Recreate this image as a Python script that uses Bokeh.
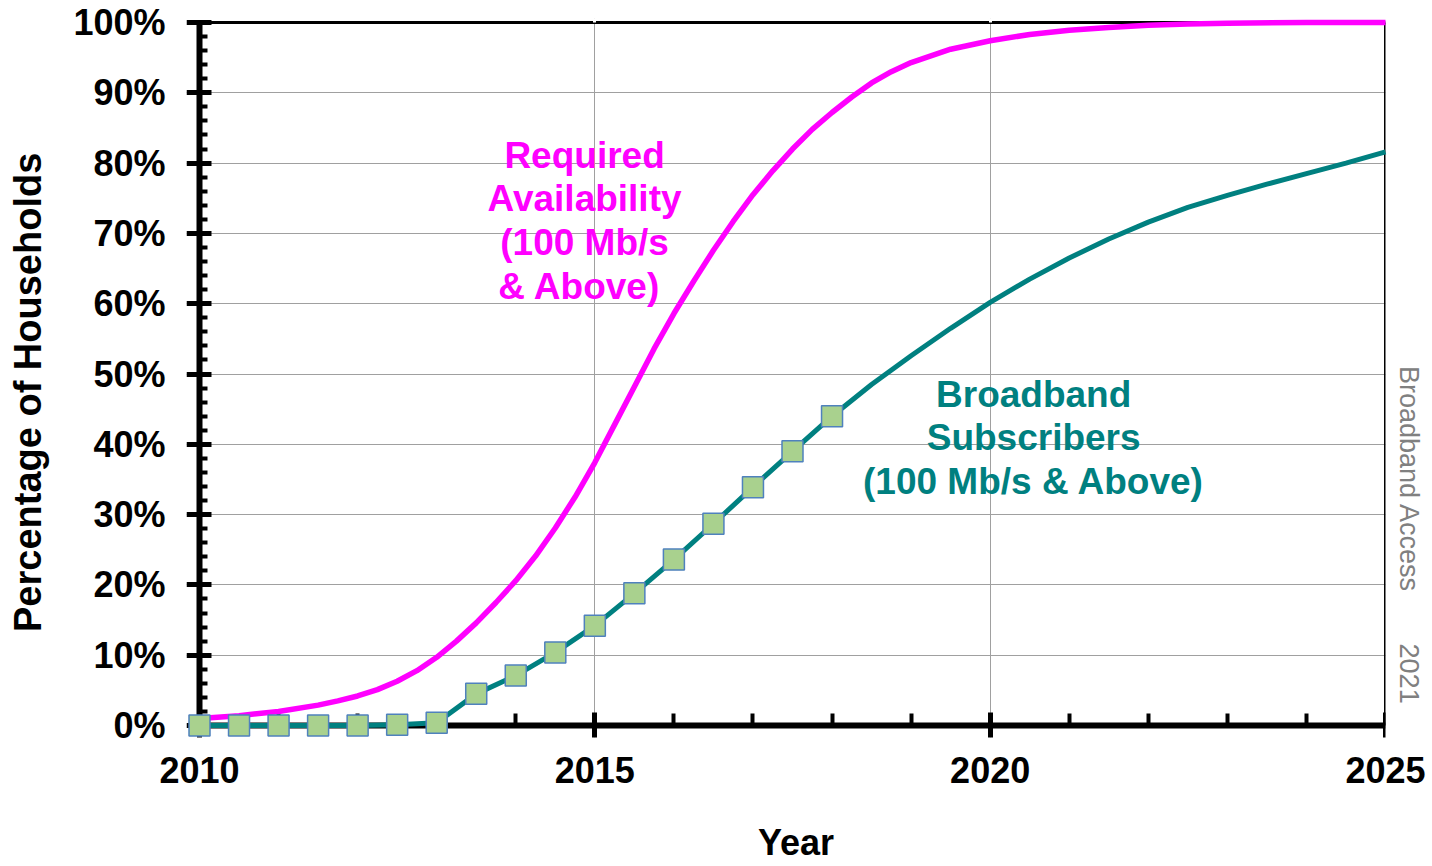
from bokeh.plotting import figure
from bokeh.models import (LinearAxis, FixedTicker, PrintfTickFormatter, Grid, Label, Range1d)
from bokeh.embed import file_html
from bokeh.resources import INLINE

# ---------------- data ----------------
avail_years = [2010, 2010.5, 2011, 2011.5, 2011.75, 2012, 2012.25, 2012.5, 2012.75, 2013, 2013.25,
               2013.5, 2013.75, 2014, 2014.25, 2014.5, 2014.75, 2015, 2015.25, 2015.5, 2015.75,
               2016, 2016.25, 2016.5, 2016.75, 2017, 2017.25, 2017.5, 2017.75, 2018, 2018.25,
               2018.5, 2018.75, 2019, 2019.5, 2020, 2020.5, 2021, 2021.5, 2022, 2022.5, 2023,
               2024, 2025]
avail_pct = [1.0, 1.4, 2.0, 2.9, 3.5, 4.2, 5.1, 6.3, 7.8, 9.7, 12.0,
             14.6, 17.5, 20.6, 24.1, 28.1, 32.5, 37.4, 42.8, 48.2, 53.6,
             58.6, 63.2, 67.6, 71.7, 75.5, 78.9, 82.0, 84.8, 87.2, 89.4,
             91.4, 93.0, 94.3, 96.2, 97.4, 98.3, 98.9, 99.3, 99.6, 99.8, 99.9,
             100.0, 100.0]

sub_years = [2010, 2010.5, 2011, 2011.5, 2012, 2012.5, 2013, 2013.5, 2014, 2014.5,
             2015, 2015.5, 2016, 2016.5, 2017, 2017.5, 2018]
sub_pct = [0.0, 0.0, 0.0, 0.0, 0.0, 0.1, 0.4, 4.5, 7.1, 10.4,
           14.2, 18.8, 23.6, 28.7, 33.9, 39.0, 44.0]

proj_years = [2018.5, 2019, 2019.5, 2020, 2020.5, 2021, 2021.5, 2022, 2022.5, 2023,
              2023.5, 2024, 2024.5, 2025]
proj_pct = [48.5, 52.6, 56.5, 60.2, 63.5, 66.5, 69.2, 71.6, 73.7, 75.4,
            77.0, 78.5, 80.0, 81.6]

y_ticks = [0, 10, 20, 30, 40, 50, 60, 70, 80, 90, 100]
y_minor = [v for v in range(0, 101, 2) if v % 10]
x_ticks = [2010, 2015, 2020, 2025]
x_minor = [v for v in range(2010, 2026) if v % 5]

avail_text = ["Required", "Availability", "(100 Mb/s", " & Above)"]
sub_text = ["Broadband", "Subscribers", "(100 Mb/s & Above)"]
NB = "\u00a0"
y_title = "Percentage of Households" + NB * 2 + "\u2009"   # padding shifts the centred title down
x_title = NB * 2 + "Year"                                  # padding shifts the centred title right
side_note = NB * 42 + "Broadband Access" + NB * 7 + "2021"

# ---------------- layout ----------------
W, H = 1432, 866
AX_L, AX_R, AX_T, AX_B = 199, 1385, 22, 725          # pixel positions of the axes box
PX_YEAR = (AX_R - AX_L) / 15.0
PX_PCT = (AX_B - AX_T) / 100.0
PAD_L, PAD_B, PAD_T = 13, 12, 4
x0 = 2010 - PAD_L / PX_YEAR
x1 = 2025
y0 = -PAD_B / PX_PCT
y1 = 100 + PAD_T / PX_PCT

FONT = "Liberation Sans"
MAGENTA = "#FF00FF"
TEAL = "#008080"

p = figure(width=W, height=H, x_range=Range1d(x0, x1), y_range=Range1d(y0, y1),
           output_backend="svg", toolbar_location=None,
           x_axis_location=None, y_axis_location=None,
           min_border_left=AX_L - PAD_L, min_border_right=W - AX_R,
           min_border_top=AX_T - PAD_T, min_border_bottom=H - (AX_B + PAD_B))
p.xgrid.visible = False
p.ygrid.visible = False
p.outline_line_color = None
p.background_fill_color = "white"
p.border_fill_color = "white"

# grids
p.add_layout(Grid(dimension=1, ticker=FixedTicker(ticks=y_ticks[1:-1]),
                  grid_line_color="#A0A0A0", grid_line_width=1))
p.add_layout(Grid(dimension=0, ticker=FixedTicker(ticks=x_ticks[1:-1]),
                  grid_line_color="#A0A0A0", grid_line_width=1))


def rule_axis(loc, bounds, ticks, side, line_width=None, tick_width=4, tick_in=0, tick_out=0,
              tick_color="black"):
    """Axis drawn at a fixed data location: line and ticks only (ticks given as minor ticks
    so that no tick labels are produced)."""
    ax = LinearAxis(fixed_location=loc, bounds=bounds,
                    ticker=FixedTicker(ticks=[], minor_ticks=ticks))
    if line_width is None:
        ax.axis_line_color = None
    else:
        ax.axis_line_color = "black"
        ax.axis_line_width = line_width
    ax.major_tick_line_color = None
    ax.minor_tick_line_color = tick_color
    ax.minor_tick_line_width = tick_width
    ax.minor_tick_in = tick_in
    ax.minor_tick_out = tick_out
    p.add_layout(ax, side)
    return ax


# left axis at x=2010
rule_axis(2010, (0, 100), y_minor, "left", tick_width=4, tick_in=8, tick_out=0)
rule_axis(2010, (0, 100), y_ticks, "left", line_width=6, tick_width=5, tick_in=12, tick_out=13)
# bottom axis at y=0
rule_axis(0, (2010, 2025), x_minor, "below", tick_width=4, tick_in=12, tick_out=0)
rule_axis(0, (2010, 2025), x_ticks, "below", line_width=6, tick_width=5, tick_in=13, tick_out=13)
# right and top border lines (white ticks on top hide grid stubs above the border)
rule_axis(2025, (0, 100), [], "right", line_width=3)
rule_axis(100, (2010, 2025), x_ticks[1:-1], "above", line_width=3, tick_width=3, tick_out=5,
          tick_color="white")


def label_axis(ticks, side, title, title_size, title_style, title_color, title_standoff,
               label_standoff, formatter=None):
    ax = LinearAxis(ticker=FixedTicker(ticks=ticks))
    if formatter is not None:
        ax.formatter = formatter
    ax.axis_line_color = None
    ax.major_tick_line_color = None
    ax.minor_tick_line_color = None
    ax.major_tick_in = 0
    ax.major_tick_out = 0
    ax.major_label_standoff = label_standoff
    ax.major_label_text_font = FONT
    ax.major_label_text_font_style = "bold"
    ax.major_label_text_font_size = "36px"
    ax.major_label_text_color = "black"
    ax.axis_label = title
    ax.axis_label_standoff = title_standoff
    ax.axis_label_text_font = FONT
    ax.axis_label_text_font_style = title_style
    ax.axis_label_text_font_size = title_size
    ax.axis_label_text_color = title_color
    p.add_layout(ax, side)
    return ax


label_axis(y_ticks, "left", y_title, "38px", "bold", "black", 21, 21,
           formatter=PrintfTickFormatter(format="%d%%"))
label_axis(x_ticks, "below", x_title, "36px", "bold", "black", 36, 19)
label_axis([], "right", side_note, "27px", "normal", "#808080", 8, 0)

# data
p.line(avail_years, avail_pct, line_color=MAGENTA, line_width=5.5, level="overlay")
p.line(sub_years + proj_years, sub_pct + proj_pct, line_color=TEAL, line_width=5, level="overlay")
p.scatter(sub_years, sub_pct, marker="square", size=21, fill_color="#A9D18E",
          line_color="#4F81BD", line_width=1.5, level="overlay")

# in-plot annotations
for i, t in enumerate(avail_text):
    p.add_layout(Label(x=2014.87, y=81.1 - i * 6.2, text=t, text_align="center",
                       text_baseline="middle", text_font=FONT, text_font_style="bold",
                       text_font_size="37px", text_color=MAGENTA))
for i, t in enumerate(sub_text):
    p.add_layout(Label(x=2020.55, y=47.1 - i * 6.2, text=t, text_align="center",
                       text_baseline="middle", text_font=FONT, text_font_style="bold",
                       text_font_size="37px", text_color=TEAL))

open("out.html", "w").write(file_html(p, INLINE))
